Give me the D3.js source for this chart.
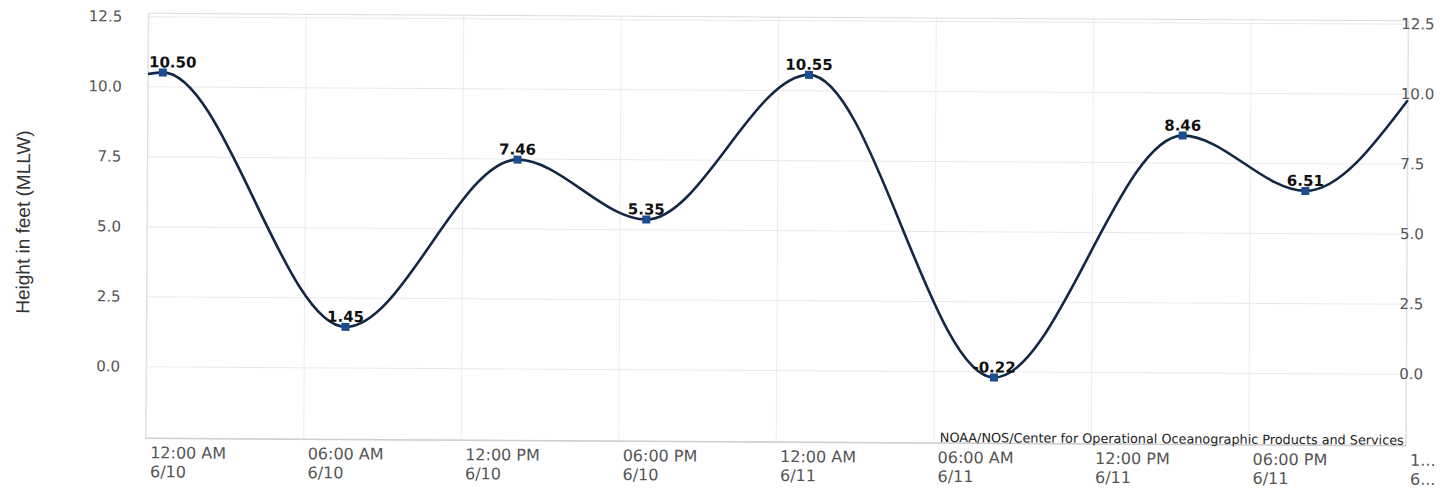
<!DOCTYPE html>
<html>
<head>
<meta charset="utf-8">
<script src="https://cdn.jsdelivr.net/npm/d3@7"></script>
<style>
  body { margin: 0; background: #fff; }
  text { font-family: "DejaVu Sans", sans-serif; }
</style>
</head>
<body>
<div id="chart-area"></div>
<script>
// hi/lo predictions, plus where the curve meets the left and right edges
var times = ["2021-06-10 00:00", "2021-06-10 00:34", "2021-06-10 07:35", "2021-06-10 14:06",
             "2021-06-10 19:01", "2021-06-11 01:11", "2021-06-11 08:18", "2021-06-11 15:26",
             "2021-06-11 20:07", "2021-06-12 00:00"];
var heights = [10.44, 10.50, 1.45, 7.46, 5.35, 10.55, -0.22, 8.46, 6.51, 9.77];
var isHiLo = [false, true, true, true, true, true, true, true, true, false];

var xTicks = ["2021-06-10 00:00", "2021-06-10 06:00", "2021-06-10 12:00", "2021-06-10 18:00",
              "2021-06-11 00:00", "2021-06-11 06:00", "2021-06-11 12:00", "2021-06-11 18:00",
              "2021-06-12 00:00"];
var xTickTime = ["12:00 AM", "06:00 AM", "12:00 PM", "06:00 PM", "12:00 AM", "06:00 AM", "12:00 PM", "06:00 PM", "1..."];
var xTickDate = ["6/10", "6/10", "6/10", "6/10", "6/11", "6/11", "6/11", "6/11", "6..."];
var yTicks = [0, 2.5, 5, 7.5, 10, 12.5];
var yDomain = [-2.57, 12.61];

var yTitle = "Height in feet (MLLW)";
var credit = "NOAA/NOS/Center for Operational Oceanographic Products and Services";

var margin = {top: 17, right: 44, bottom: 47, left: 147},
    width = 1451 - margin.left - margin.right,
    height = 489 - margin.top - margin.bottom;

var parse = d3.timeParse("%Y-%m-%d %H:%M");

var data = times.map(function(t, i) {
    return {t: parse(t), h: heights[i], label: isHiLo[i]};
});

var svg = d3.select("#chart-area")
    .append("svg")
    .attr("width", 1451)
    .attr("height", 489)
    .append("g")
    // the reference photo is tilted slightly
    .attr("transform", "rotate(0.34,778,230) translate(" + margin.left + "," + margin.top + ")");

var x = d3.scaleTime()
    .domain([parse(xTicks[0]), parse(xTicks[xTicks.length - 1])])
    .range([0, width]);

var y = d3.scaleLinear()
    .domain(yDomain)
    .range([height, 0]);

// gridlines
svg.append("g")
    .attr("class", "grid")
    .call(d3.axisLeft(y).tickValues(yTicks).tickSize(-width).tickFormat(""))
    .call(g => g.select(".domain").remove())
    .call(g => g.selectAll("line").attr("stroke", "#e9e9e9"));

svg.append("g")
    .attr("class", "grid")
    .attr("transform", "translate(0," + height + ")")
    .call(d3.axisBottom(x).tickValues(xTicks.map(parse)).tickSize(-height).tickFormat(""))
    .call(g => g.select(".domain").remove())
    .call(g => g.selectAll("line").attr("stroke", "#ececec"));

// plot frame
svg.append("rect")
    .attr("width", width)
    .attr("height", height)
    .attr("fill", "none")
    .attr("stroke", "#dcdcdc");

svg.append("line")
    .attr("x1", 0).attr("x2", width)
    .attr("y1", height).attr("y2", height)
    .attr("stroke", "#cfcfcf")
    .attr("stroke-width", 1.5);

// y axes, both sides
svg.append("g")
    .call(d3.axisLeft(y).tickValues(yTicks).tickFormat(d3.format(".1f")).tickSize(0).tickPadding(26))
    .call(g => g.select(".domain").remove())
    .call(g => g.selectAll("text").attr("fill", "#555").style("font-size", "15px"));

svg.append("g")
    .attr("transform", "translate(" + width + ",0)")
    .call(d3.axisRight(y).tickValues(yTicks).tickFormat(d3.format(".1f")).tickSize(0).tickPadding(-7))
    .call(g => g.select(".domain").remove())
    .call(g => g.selectAll("text").attr("fill", "#555").style("font-size", "15px"));

// x axis, two-line labels to the right of each tick
var xAxis = svg.append("g")
    .attr("transform", "translate(0," + height + ")")
    .call(d3.axisBottom(x).tickValues(xTicks.map(parse)).tickSize(0).tickFormat(""));
xAxis.select(".domain").remove();
xAxis.selectAll(".tick text")
    .attr("text-anchor", "start")
    .attr("fill", "#555")
    .attr("dy", null)
    .attr("y", 0)
    .style("font-size", "16px")
    .each(function(d, i) {
        var t = d3.select(this);
        t.append("tspan").attr("x", 4).attr("y", 20).text(xTickTime[i]);
        t.append("tspan").attr("x", 4).attr("y", 39).text(xTickDate[i]);
    });

// tide curve
var line = d3.line()
    .x(d => x(d.t))
    .y(d => y(d.h))
    .curve(d3.curveMonotoneX);

svg.append("path")
    .datum(data)
    .attr("fill", "none")
    .attr("stroke", "#142845")
    .attr("stroke-width", 2.6)
    .attr("d", line);

var hilo = data.filter(d => d.label);

svg.selectAll(".marker")
    .data(hilo)
    .enter()
    .append("rect")
    .attr("class", "marker")
    .attr("x", d => x(d.t) - 4)
    .attr("y", d => y(d.h) - 4)
    .attr("width", 8)
    .attr("height", 8)
    .attr("fill", "#1d4d8e");

svg.selectAll(".value")
    .data(hilo)
    .enter()
    .append("text")
    .attr("class", "value")
    .attr("x", d => x(d.t))
    .attr("y", d => y(d.h) - 5)
    .attr("text-anchor", "middle")
    .attr("fill", "#111")
    .style("font-size", "15px")
    .style("font-weight", "bold")
    .text(d => d.h.toFixed(2))
    .each(function(d) {
        // keep labels inside the plot
        var w = this.getComputedTextLength();
        if (x(d.t) - w / 2 < 1) {
            d3.select(this).attr("text-anchor", "start").attr("x", 1);
        }
    });

svg.append("text")
    .attr("transform", "translate(" + (23 - margin.left) + "," + (height / 2 - 3) + ") rotate(-90)")
    .attr("text-anchor", "middle")
    .attr("dy", "0.35em")
    .attr("fill", "#333")
    .style("font-family", "'Liberation Sans', Arial, sans-serif")
    .style("font-size", "19px")
    .text(yTitle);

svg.append("text")
    .attr("x", width - 2)
    .attr("y", height - 1)
    .attr("text-anchor", "end")
    .attr("fill", "#222")
    .style("font-size", "12.8px")
    .text(credit);
</script>
</body>
</html>
